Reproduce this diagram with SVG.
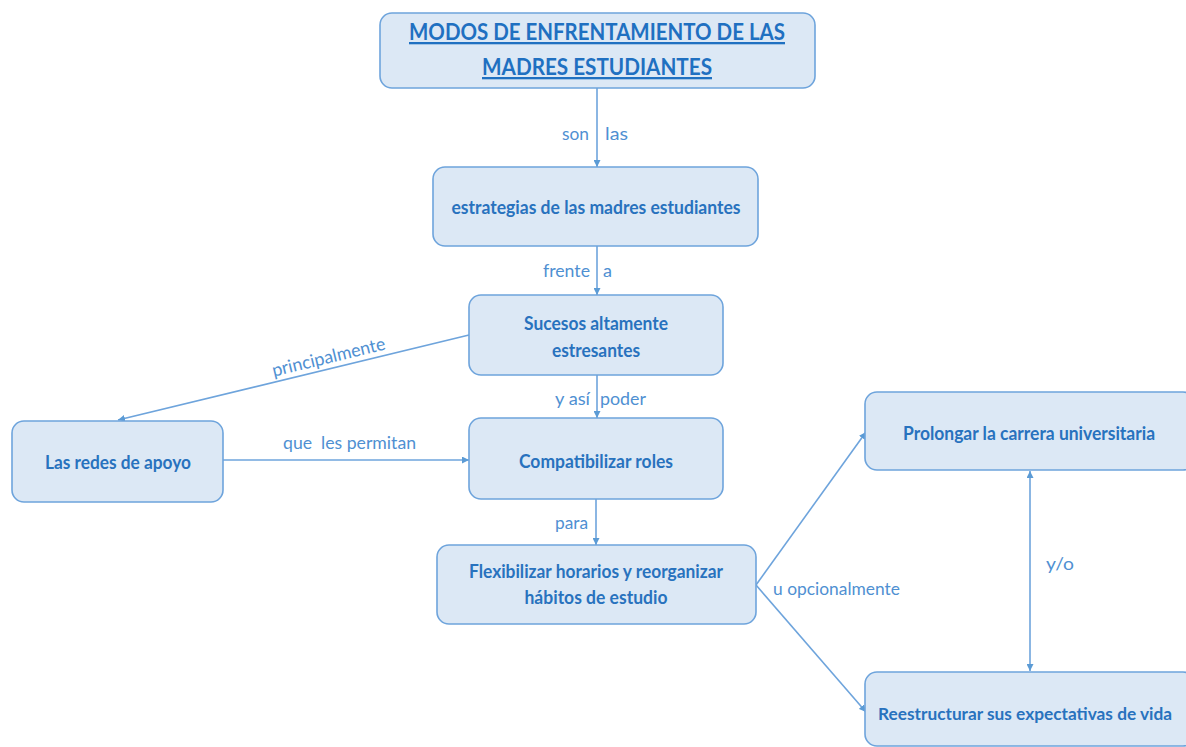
<svg xmlns="http://www.w3.org/2000/svg" width="1186" height="747" viewBox="0 0 1186 747">
<style>
.box{fill:#dce8f5;stroke:#6ea4dc;stroke-width:1.6}
.nt{font-family:Lato,"Liberation Sans",sans-serif;font-weight:bold;font-size:19px;fill:#2872be;text-anchor:middle}
.tt{font-family:Lato,"Liberation Sans",sans-serif;font-weight:bold;font-size:23px;fill:#1f70c1;text-anchor:middle;text-decoration:underline}
.lb{font-family:Lato,"Liberation Sans",sans-serif;font-size:18px;fill:#4f90d2}
.ln{stroke:#6ea4dc;stroke-width:1.6;fill:none}
</style>
<defs>
<marker id="ah" viewBox="0 0 10 10" refX="10" refY="5" markerWidth="7" markerHeight="7" orient="auto-start-reverse" markerUnits="userSpaceOnUse">
<path d="M0,0 L10,5 L0,10 z" fill="#5b9bd5"/>
</marker>
</defs>
<rect width="1186" height="747" fill="#ffffff"/>
<g id="connectors">
<line class="ln" x1="597" y1="88" x2="597" y2="167" marker-end="url(#ah)"/>
<line class="ln" x1="597" y1="246" x2="597" y2="295" marker-end="url(#ah)"/>
<line class="ln" x1="597" y1="375" x2="597" y2="418" marker-end="url(#ah)"/>
<line class="ln" x1="469" y1="335" x2="118" y2="420" marker-end="url(#ah)"/>
<line class="ln" x1="223" y1="460" x2="469" y2="460" marker-end="url(#ah)"/>
<line class="ln" x1="596" y1="499" x2="596" y2="545" marker-end="url(#ah)"/>
<line class="ln" x1="756" y1="585" x2="866" y2="432" marker-end="url(#ah)"/>
<line class="ln" x1="756" y1="585" x2="866" y2="712" marker-end="url(#ah)"/>
<line class="ln" x1="1030" y1="471" x2="1030" y2="671" marker-start="url(#ah)" marker-end="url(#ah)"/>
<text class="lb" x="562" y="140" textLength="27" lengthAdjust="spacingAndGlyphs">son</text>
<text class="lb" x="605" y="140" textLength="23" lengthAdjust="spacingAndGlyphs">las</text>
<text class="lb" x="543" y="277" textLength="47" lengthAdjust="spacingAndGlyphs">frente</text>
<text class="lb" x="603" y="277" textLength="9" lengthAdjust="spacingAndGlyphs">a</text>
<text class="lb" x="555" y="405" textLength="35" lengthAdjust="spacingAndGlyphs">y así</text>
<text class="lb" x="600" y="405" textLength="46" lengthAdjust="spacingAndGlyphs">poder</text>
<text class="lb" x="283" y="449" textLength="133" lengthAdjust="spacingAndGlyphs" xml:space="preserve">que  les permitan</text>
<text class="lb" x="555" y="529" textLength="33" lengthAdjust="spacingAndGlyphs">para</text>
<text class="lb" x="773" y="595" textLength="127" lengthAdjust="spacingAndGlyphs">u opcionalmente</text>
<text class="lb" x="1046" y="570" textLength="28" lengthAdjust="spacingAndGlyphs">y/o</text>
<text class="lb" x="330" y="363" text-anchor="middle" transform="rotate(-13.6 330 363)" textLength="116" lengthAdjust="spacingAndGlyphs">principalmente</text>
</g>
<g id="n-title">
<rect class="box" x="380" y="13" width="435" height="75" rx="12"/>
<text class="tt" x="597" y="40" textLength="376" lengthAdjust="spacingAndGlyphs">MODOS DE ENFRENTAMIENTO DE LAS</text>
<text class="tt" x="597" y="75" textLength="230" lengthAdjust="spacingAndGlyphs">MADRES ESTUDIANTES</text>
</g>
<g id="n-estrategias">
<rect class="box" x="433" y="167" width="325" height="79" rx="12"/>
<text class="nt" x="596" y="214" textLength="289" lengthAdjust="spacingAndGlyphs">estrategias de las madres estudiantes</text>
</g>
<g id="n-sucesos">
<rect class="box" x="469" y="295" width="254" height="80" rx="12"/>
<text class="nt" x="596" y="330" textLength="144" lengthAdjust="spacingAndGlyphs">Sucesos altamente</text>
<text class="nt" x="596" y="357" textLength="88" lengthAdjust="spacingAndGlyphs">estresantes</text>
</g>
<g id="n-redes">
<rect class="box" x="12" y="421" width="211" height="81" rx="12"/>
<text class="nt" x="118" y="469" textLength="146" lengthAdjust="spacingAndGlyphs">Las redes de apoyo</text>
</g>
<g id="n-compatibilizar">
<rect class="box" x="469" y="418" width="254" height="81" rx="12"/>
<text class="nt" x="596" y="468" textLength="154" lengthAdjust="spacingAndGlyphs">Compatibilizar roles</text>
</g>
<g id="n-flexibilizar">
<rect class="box" x="437" y="545" width="319" height="79" rx="12"/>
<text class="nt" x="596" y="578" textLength="254" lengthAdjust="spacingAndGlyphs">Flexibilizar horarios y reorganizar</text>
<text class="nt" x="596" y="604" textLength="143" lengthAdjust="spacingAndGlyphs">hábitos de estudio</text>
</g>
<g id="n-prolongar">
<rect class="box" x="865" y="392" width="330" height="78" rx="12"/>
<text class="nt" x="1029" y="440" textLength="252" lengthAdjust="spacingAndGlyphs">Prolongar la carrera universitaria</text>
</g>
<g id="n-reestructurar">
<rect class="box" x="865" y="672" width="330" height="74" rx="12"/>
<text class="nt" x="1025" y="720" font-size="17" style="font-size:17px" textLength="294" lengthAdjust="spacingAndGlyphs">Reestructurar sus expectativas de vida</text>
</g>
</svg>
